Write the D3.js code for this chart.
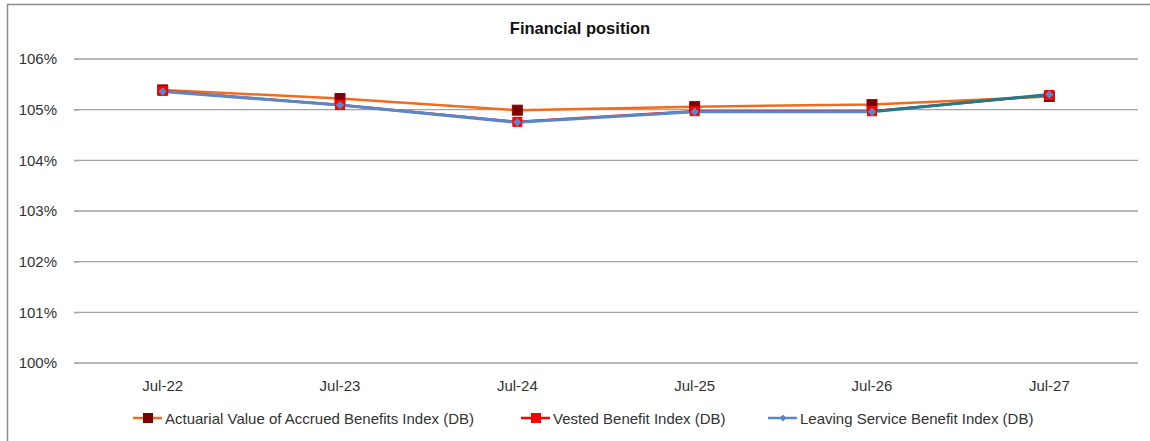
<!DOCTYPE html>
<html lang="en"><head>
<meta charset="utf-8">
<title>Financial position</title>
<script src="https://cdnjs.cloudflare.com/ajax/libs/d3/7.8.5/d3.min.js"></script>
<style>
  body { margin: 0; background: #fff; }
  svg { display: block; font-family: "Liberation Sans", Arial, sans-serif; }
</style>
</head>
<body>
<div id="chart"></div>
<script>
// data
var months = ["Jul-22", "Jul-23", "Jul-24", "Jul-25", "Jul-26", "Jul-27"];
var accrued = [105.39, 105.22, 104.99, 105.06, 105.10, 105.26];
var vested = [105.37, 105.09, 104.76, 104.97, 104.97, 105.29];
var leaving = [105.36, 105.09, 104.75, 104.96, 104.96, 105.30];
var yTicks = [100, 101, 102, 103, 104, 105, 106];

var width = 1150, height = 441;
var svg = d3.select("#chart").append("svg").attr("width", width).attr("height", height);

// chart frame
svg.append("path").attr("d", "M7.5,441 V4.5 H1150").attr("fill", "none")
  .attr("stroke", "#8c8c8c").attr("stroke-width", 1.5);

svg.append("text").attr("x", 580).attr("y", 34).attr("text-anchor", "middle")
  .attr("font-size", 16.5).attr("font-weight", "bold").attr("fill", "#111").text("Financial position");

var x = d3.scaleBand().domain(months).range([74, 1138]);
var y = d3.scaleLinear().domain([100, 106]).range([363, 59]);
var cx = function(m) { return x(m) + x.bandwidth() / 2; };

// gridlines
svg.append("g").selectAll("line").data(yTicks).enter().append("line")
  .attr("x1", 74).attr("x2", 1138)
  .attr("y1", function(d) { return y(d); }).attr("y2", function(d) { return y(d); })
  .attr("stroke", "#a3a3a3").attr("stroke-width", 1.3);

// y axis labels
var yAxis = d3.axisLeft(y).tickValues(yTicks).tickSize(5).tickPadding(17)
  .tickFormat(function(d) { return d + "%"; });
var gy = svg.append("g").attr("transform", "translate(79,0)").call(yAxis);
gy.select(".domain").remove();
gy.selectAll("line").attr("stroke", "#a3a3a3");
gy.selectAll("text").attr("font-size", 15).attr("fill", "#333")
  .attr("font-family", "Liberation Sans, Arial, sans-serif");

// x axis labels
var gx = svg.append("g").attr("transform", "translate(0,363)")
  .call(d3.axisBottom(x).tickSize(0).tickPadding(17));
gx.select(".domain").remove();
gx.selectAll("text").attr("font-size", 15).attr("fill", "#333")
  .attr("font-family", "Liberation Sans, Arial, sans-serif");

var line = d3.line().x(function(d, i) { return cx(months[i]); }).y(function(d) { return y(d); });

// accrued benefits
svg.append("path").datum(accrued).attr("d", line).attr("fill", "none")
  .attr("stroke", "#f26b1d").attr("stroke-width", 2.5);
// vested
svg.append("path").datum(vested).attr("d", line).attr("fill", "none")
  .attr("stroke", "#ff0000").attr("stroke-width", 2.5);
// leaving service (last segment drawn in teal as in the reference)
svg.append("path").datum(leaving.slice(0, 5)).attr("d", line).attr("fill", "none")
  .attr("stroke", "#5a87c6").attr("stroke-width", 3);
svg.append("path")
  .attr("d", d3.line()([[cx(months[4]), y(leaving[4])], [cx(months[5]), y(leaving[5])]]))
  .attr("fill", "none").attr("stroke", "#1f7d8a").attr("stroke-width", 3);

function squares(data, fill, stroke, s) {
  svg.append("g").selectAll("rect").data(data).enter().append("rect")
    .attr("x", function(d, i) { return cx(months[i]) - s / 2; })
    .attr("y", function(d) { return y(d) - s / 2; })
    .attr("width", s).attr("height", s)
    .attr("fill", fill).attr("stroke", stroke).attr("stroke-width", 1);
}
squares(accrued, "#7d0000", "#a00000", 10);
squares(vested, "#ff0000", "#ff0000", 9);
var diamond = d3.symbol().type(d3.symbolDiamond2).size(45);
svg.append("g").selectAll("path").data(leaving).enter().append("path")
  .attr("d", diamond)
  .attr("transform", function(d, i) { return "translate(" + cx(months[i]) + "," + y(d) + ")"; })
  .attr("fill", "#5a87c6");

// legend
var legend = [
  { name: "Actuarial Value of Accrued Benefits Index (DB)", x: 133, line: "#f26b1d", mark: "sq", fill: "#7d0000" },
  { name: "Vested Benefit Index (DB)", x: 521, line: "#ff0000", mark: "sq", fill: "#ff0000" },
  { name: "Leaving Service Benefit Index (DB)", x: 768, line: "#5a87c6", mark: "di", fill: "#5a87c6" }
];
var lg = svg.append("g").selectAll("g").data(legend).enter().append("g")
  .attr("transform", function(d) { return "translate(" + d.x + ",418)"; });
lg.append("line").attr("x1", 0).attr("x2", 29).attr("stroke", function(d) { return d.line; })
  .attr("stroke-width", 2.5);
lg.filter(function(d) { return d.mark == "sq"; }).append("rect")
  .attr("x", 10).attr("y", -5).attr("width", 10).attr("height", 10)
  .attr("fill", function(d) { return d.fill; });
lg.filter(function(d) { return d.mark == "di"; }).append("path")
  .attr("d", d3.symbol().type(d3.symbolDiamond2).size(30))
  .attr("transform", "translate(15,0)").attr("fill", function(d) { return d.fill; });
lg.append("text").attr("x", 32).attr("y", 5.5).attr("font-size", 15).attr("fill", "#333")
  .text(function(d) { return d.name; });
</script>
</body></html>
